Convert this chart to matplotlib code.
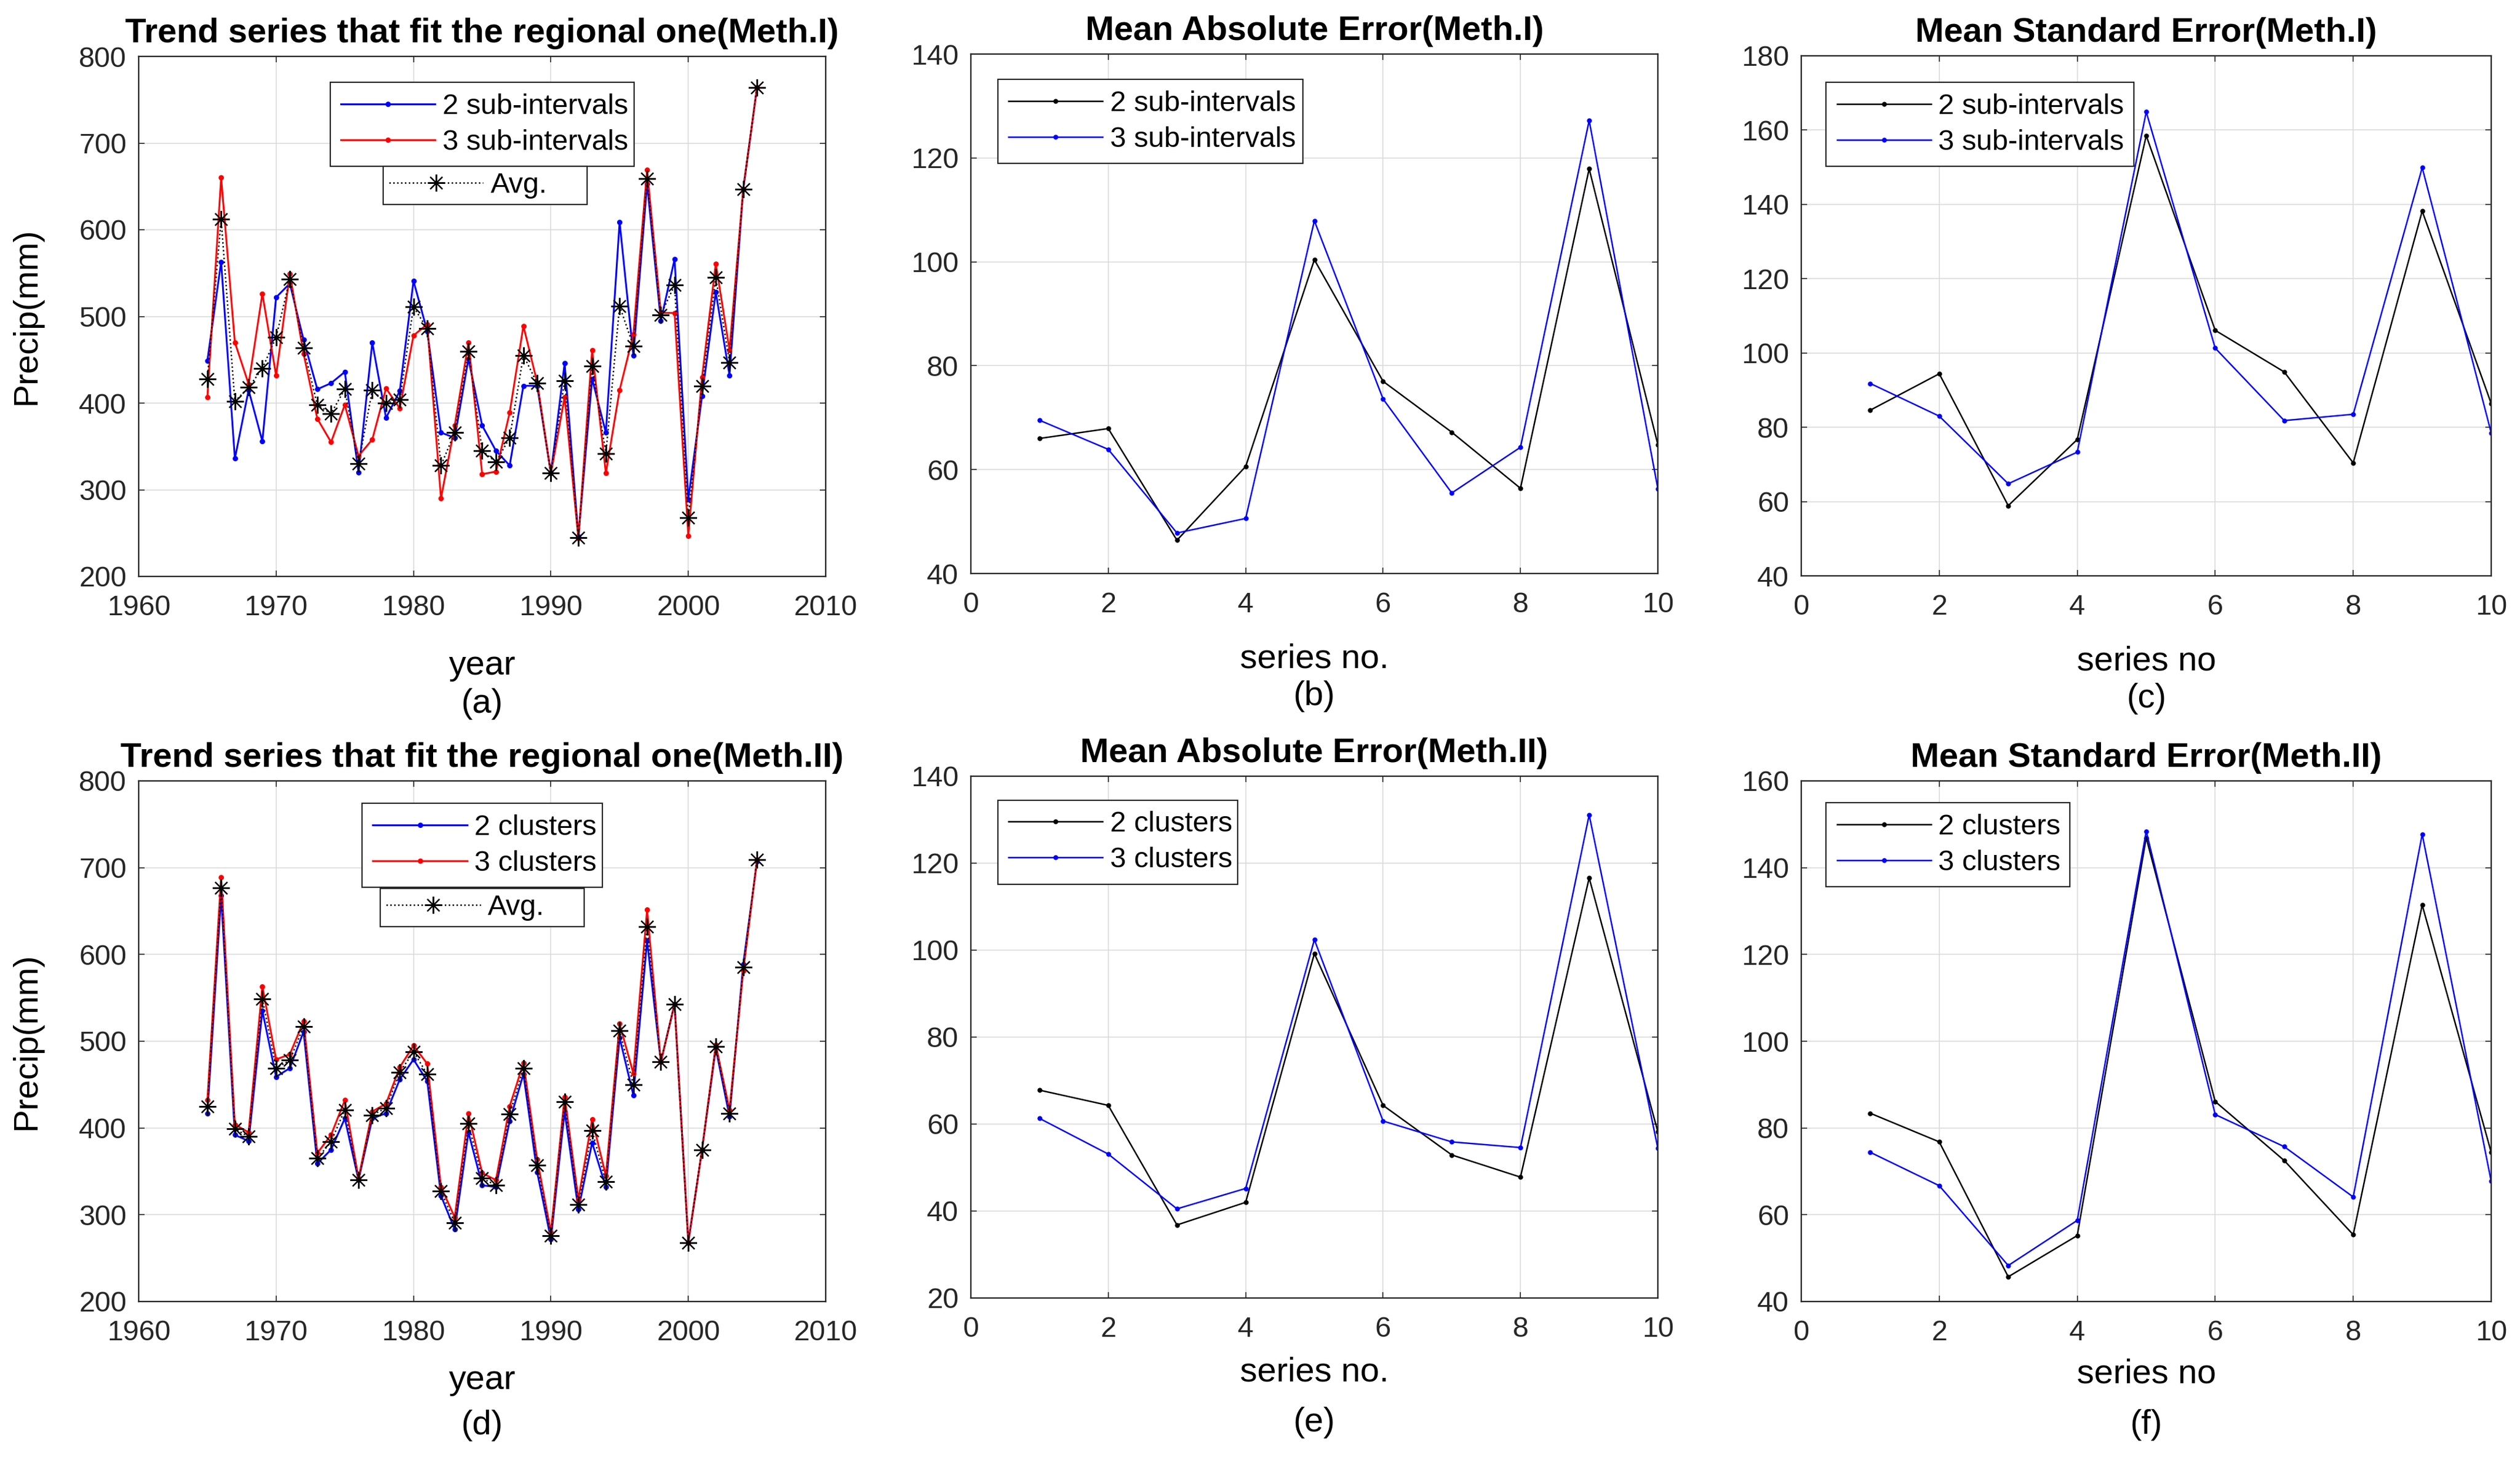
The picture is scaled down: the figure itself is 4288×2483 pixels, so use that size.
import numpy as np
import matplotlib
matplotlib.use('Agg')
import matplotlib.pyplot as plt

plt.rcParams['font.family'] = ['Liberation Sans', 'DejaVu Sans']

# years of the trend series
years = list(range(1965, 2006))

# Meth.I trend series
sub2_I = [449, 563, 336, 415, 356, 522, 538, 473, 416, 423, 436, 320, 470, 383, 414,
          541, 483, 366, 360, 451, 374, 345, 328, 420, 420, 319, 446, 246, 428, 366,
          609, 455, 653, 495, 566, 289, 408, 528, 432, 647, 764]
sub3_I = [407, 660, 470, 422, 526, 432, 549, 457, 382, 355, 398, 339, 358, 417, 394,
          478, 491, 290, 374, 470, 318, 321, 389, 489, 424, 319, 407, 244, 461, 319,
          415, 479, 669, 504, 504, 247, 430, 561, 461, 647, 764]
avg_I = [428, 612, 402, 418, 440, 476, 543, 464, 398, 388, 416, 330, 415, 400, 404,
         511, 486, 328, 366, 460, 345, 332, 360, 455, 423, 319, 426, 245, 443, 342,
         512, 466, 659, 502, 536, 268, 420, 545, 447, 647, 764]

# Meth.II trend series
cl2_II = [417, 668, 392, 385, 535, 459, 469, 511, 359, 375, 411, 340, 411, 417, 456,
          479, 454, 322, 283, 395, 334, 332, 408, 462, 349, 272, 419, 306, 383, 332,
          504, 438, 616, 476, 543, 268, 375, 492, 413, 589, 707]
cl3_II = [432, 689, 404, 395, 563, 479, 485, 523, 371, 392, 432, 342, 419, 428, 470,
          495, 474, 332, 297, 417, 348, 340, 425, 475, 364, 280, 436, 318, 410, 345,
          520, 463, 652, 476, 543, 268, 375, 496, 421, 581, 709]
avg_II = [425, 677, 399, 390, 549, 469, 478, 517, 365, 384, 421, 340, 415, 423, 464,
          488, 462, 327, 291, 405, 342, 334, 416, 469, 357, 276, 430, 312, 397, 338,
          512, 450, 632, 476, 543, 268, 375, 494, 417, 585, 709]

# error series
series_no = list(range(1, 11))
mae_I_2 = [66.0, 67.9, 46.4, 60.6, 100.4, 77.0, 67.2, 56.4, 117.9, 64.8]
mae_I_3 = [69.5, 63.9, 47.8, 50.6, 107.9, 73.6, 55.5, 64.3, 127.2, 56.3]
mse_I_2 = [84.6, 94.4, 58.9, 76.7, 158.5, 106.1, 94.9, 70.4, 138.2, 86.4]
mse_I_3 = [91.8, 83.0, 64.8, 73.3, 164.9, 101.3, 81.8, 83.5, 149.9, 78.5]
mae_II_2 = [67.8, 64.3, 36.8, 42.0, 99.2, 64.3, 52.9, 47.8, 116.6, 58.2]
mae_II_3 = [61.3, 53.1, 40.5, 45.2, 102.4, 60.7, 55.9, 54.6, 131.1, 54.4]
mse_II_2 = [83.4, 76.8, 45.7, 55.2, 146.9, 86.1, 72.5, 55.4, 131.4, 74.4]
mse_II_3 = [74.4, 66.7, 48.3, 58.7, 148.4, 83.1, 75.7, 64.1, 147.7, 67.7]

W, H = 4288, 2483
fig = plt.figure(figsize=(W / 100, H / 100), dpi=100)
fig.patch.set_facecolor('white')

DARK = '#262626'


def make_axes(l, r, t, b):
    return fig.add_axes([l / W, 1 - b / H, (r - l) / W, (b - t) / H])


def style_axes(ax):
    ax.grid(True, color='#dcdcdc', lw=1.2)
    ax.set_axisbelow(True)
    for sp in ax.spines.values():
        sp.set_linewidth(1.7)
        sp.set_color(DARK)
    ax.tick_params(axis='both', direction='in', length=7, width=1.2, color=DARK,
                   labelcolor=DARK, labelsize=35, top=True, right=True)
    ax.tick_params(axis='x', pad=22)
    ax.tick_params(axis='y', pad=15)


def legend(ax, handles, labels, box, bpad=0.38):
    leg = ax.legend(handles, labels, loc='upper left', bbox_to_anchor=box, mode='expand',
                    borderaxespad=0, fontsize=35, handlelength=3.3, handletextpad=0.25,
                    borderpad=bpad, labelspacing=0.33, fancybox=False, framealpha=1)
    leg.get_frame().set_edgecolor(DARK)
    leg.get_frame().set_linewidth(1.6)
    return leg


def under_text(ax, lab_y, letter, letter_y, xlabel):
    ax.text(0.5, lab_y, xlabel, transform=ax.transAxes, ha='center', va='baseline', fontsize=42)
    ax.text(0.5, letter_y, letter, transform=ax.transAxes, ha='center', va='baseline', fontsize=42)


def trend_panel(ax, s1, s2, avg, lab1, lab2, title, box1, box2):
    l1, = ax.plot(years, s1, color='blue', lw=2.2, marker='o', ms=5.5)
    l2, = ax.plot(years, s2, color='red', lw=2.2, marker='o', ms=5.5)
    l3, = ax.plot(years, avg, color='black', lw=1.8, ls=':', marker=(8, 2, 0), ms=21, mew=1.6)
    ax.set_xlim(1960, 2010)
    ax.set_ylim(200, 800)
    ax.set_xticks(range(1960, 2011, 10))
    ax.set_yticks(range(200, 801, 100))
    style_axes(ax)
    ax.set_title(title, fontsize=42, fontweight='bold', pad=17)
    ax.set_ylabel('Precip(mm)', fontsize=42)
    ax.yaxis.set_label_coords(-0.14, 0.5)
    leg1 = legend(ax, [l1, l2], [lab1, lab2], box1)
    ax.add_artist(leg1)
    legend(ax, [l3], ['Avg.'], box2, bpad=0.2)


def error_panel(ax, s1, s2, lab1, lab2, title, ylim, box):
    l1, = ax.plot(series_no, s1, color='black', lw=1.8, marker='o', ms=5)
    l2, = ax.plot(series_no, s2, color='blue', lw=1.8, marker='o', ms=5)
    ax.set_xlim(0, 10)
    ax.set_ylim(*ylim)
    ax.set_xticks(range(0, 11, 2))
    ax.set_yticks(range(ylim[0], ylim[1] + 1, 20))
    style_axes(ax)
    ax.set_title(title, fontsize=42, fontweight='bold', pad=17)
    legend(ax, [l1, l2], [lab1, lab2], box)


# top row (Meth.I)
ax_a = make_axes(236, 1405, 96, 981)
trend_panel(ax_a, sub2_I, sub3_I, avg_I, '2 sub-intervals', '3 sub-intervals',
            'Trend series that fit the regional one(Meth.I)',
            (0.2785, 0.788, 0.4425, 0.162), (0.356, 0.717, 0.297, 0.0715))
under_text(ax_a, -0.189, '(a)', -0.2625, 'year')

ax_b = make_axes(1652, 2821, 92, 976)
error_panel(ax_b, mae_I_2, mae_I_3, '2 sub-intervals', '3 sub-intervals',
            'Mean Absolute Error(Meth.I)', (40, 140), (0.039, 0.79, 0.444, 0.161))
under_text(ax_b, -0.181, '(b)', -0.253, 'series no.')

ax_c = make_axes(3065, 4239, 95, 980)
error_panel(ax_c, mse_I_2, mse_I_3, '2 sub-intervals', '3 sub-intervals',
            'Mean Standard Error(Meth.I)', (40, 180), (0.036, 0.788, 0.446, 0.161))
under_text(ax_c, -0.181, '(c)', -0.253, 'series no')

# bottom row (Meth.II)
ax_d = make_axes(236, 1405, 1329, 2215)
trend_panel(ax_d, cl2_II, cl3_II, avg_II, '2 clusters', '3 clusters',
            'Trend series that fit the regional one(Meth.II)',
            (0.325, 0.793, 0.35, 0.164), (0.352, 0.721, 0.296, 0.072))
under_text(ax_d, -0.168, '(d)', -0.255, 'year')

ax_e = make_axes(1652, 2821, 1321, 2209)
error_panel(ax_e, mae_II_2, mae_II_3, '2 clusters', '3 clusters',
            'Mean Absolute Error(Meth.II)', (20, 140), (0.039, 0.79, 0.349, 0.164))
under_text(ax_e, -0.159, '(e)', -0.256, 'series no.')

ax_f = make_axes(3065, 4239, 1329, 2215)
error_panel(ax_f, mse_II_2, mse_II_3, '2 clusters', '3 clusters',
            'Mean Standard Error(Meth.II)', (40, 160), (0.036, 0.792, 0.353, 0.166))
under_text(ax_f, -0.156, '(f)', -0.254, 'series no')

fig.savefig('out.png', dpi=100, facecolor='white')
